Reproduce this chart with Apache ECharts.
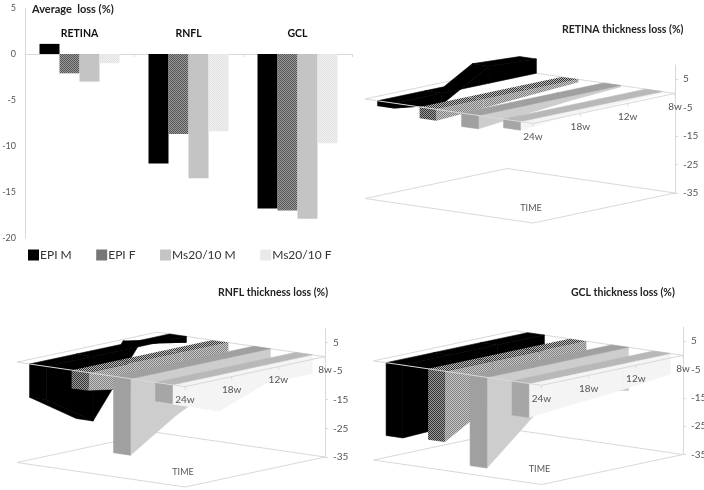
<!DOCTYPE html>
<html lang="en">
<head>
    <meta charset="UTF-8">
    <title>Thickness loss</title>
    <script type="text/javascript" src="https://cdn.jsdelivr.net/npm/echarts@6/dist/echarts.min.js"></script>
    <style>
        html, body { margin: 0; padding: 0; background: #fff; }
        #main { width: 704px; height: 490px; }
    </style>
</head>
<body>
<div id="main"></div>
<script type="text/javascript">
    // average loss, top left
    var layers = ['RETINA', 'RNFL', 'GCL'];
    var seriesNames = ['EPI M', 'EPI F', 'Ms20/10 M', 'Ms20/10 F'];
    var avgEpiM = [1.1, -11.9, -16.8];
    var avgEpiF = [-2.1, -8.7, -17];
    var avgMsM = [-3, -13.5, -17.9];
    var avgMsF = [-1, -8.4, -9.7];
    var avgTicks = [5, 0, -5, -10, -15, -20];

    // loss over time, 24w at the front of each 3d panel
    var weeks = ['24w', '18w', '12w', '8w'];
    var depthTicks = [5, -5, -15, -25, -35];

    var retinaEpiM = [-1.7, -4, 6, 5];
    var retinaEpiF = [-4, -3, -2, -1];
    var retinaMsM = [-4.7, -3, -1.5, -0.5];
    var retinaMsF = [-3, -1.5, -1, -0.5];

    var rnflEpiM = [-11.6, -22.5, 1, -2];
    var rnflEpiF = [-6.2, -9, -5, -3];
    var rnflMsM = [-26.7, -16, -8, -3];
    var rnflMsF = [-6.6, -12.6, -6.5, -6.5];

    var gclEpiM = [-25.7, -25, -15, -5];
    var gclEpiF = [-25, -15, -8, -3.5];
    var gclMsM = [-32, -17, -12, -15];
    var gclMsF = [-12, -10.5, -9.2, -7.2];

    var FONT = 'Lato, "Open Sans", sans-serif';
    var LINE = '#d9d9d9';
    var TIME_RISE = 30;      // y shift from 24w to 8w
    var DEPTH_X = -168;      // depth vector of the 3d floor
    var DEPTH_Y = -24.5;
    var RIBBON = 0.05;       // half width of a ribbon, in depth units

    function checker(a, b) {
        var c = document.createElement('canvas');
        c.width = 2;
        c.height = 2;
        var g = c.getContext('2d');
        g.fillStyle = a;
        g.fillRect(0, 0, 2, 2);
        g.fillStyle = b;
        g.fillRect(0, 0, 1, 1);
        g.fillRect(1, 1, 1, 1);
        return { image: c, repeat: 'repeat' };
    }

    var epiFBar = checker('#9a9a9a', '#555555');
    var msFBar = checker('#f0f0f0', '#e2e2e2');
    var ribbonStyles = [
        { top: '#000', cap: '#000', side: '#000', under: '#000' },
        { top: checker('#bbb', '#333'), cap: checker('#999', '#333'), side: checker('#c8c8c8', '#808080'), under: '#777' },
        { top: '#a0a0a0', cap: '#a0a0a0', side: '#cdcdcd', under: '#777' },
        { top: '#b8b8b8', cap: '#a6a6a6', side: '#f4f4f4', under: '#f8f8f8' }
    ];

    function project(api, i, v, s) {
        var c = api.coord([i, v]);
        return [c[0] + s * DEPTH_X, c[1] + (weeks.length - 1 - i) / (weeks.length - 1) * TIME_RISE + s * DEPTH_Y];
    }

    function lerp(a, b, f) {
        return [a[0] + (b[0] - a[0]) * f, a[1] + (b[1] - a[1]) * f];
    }

    function poly(points, fill) {
        // same colour outline hides the seams between faces
        var solid = typeof fill === 'string';
        return {
            type: 'polygon',
            shape: { points: points },
            style: { fill: fill, stroke: solid ? fill : null, lineWidth: solid ? 0.6 : 0 }
        };
    }

    // one prism between 0 and the value, drawn a segment at a time
    function ribbonRender(values, slot, look) {
        var mid = (slot + 0.5) / 4;
        var s0 = mid - RIBBON, s1 = mid + RIBBON;
        return function (params, api) {
            var i = params.dataIndex;
            var kids = [];
            if (i < values.length - 1) {
                var a = values[i], b = values[i + 1];
                // underside shows where the loss gets deeper going back
                if (b < a && b < 0) {
                    kids.push(poly([project(api, i, a, s0), project(api, i + 1, b, s0),
                        project(api, i + 1, b, s1), project(api, i, a, s1)], look.under));
                }
                var top0 = [project(api, i, Math.max(a, 0), s0)];
                var top1 = [project(api, i, Math.max(a, 0), s1)];
                if (a * b < 0) {
                    var f = a / (a - b);
                    top0.push(lerp(project(api, i, 0, s0), project(api, i + 1, 0, s0), f));
                    top1.push(lerp(project(api, i, 0, s1), project(api, i + 1, 0, s1), f));
                }
                top0.push(project(api, i + 1, Math.max(b, 0), s0));
                top1.push(project(api, i + 1, Math.max(b, 0), s1));
                kids.push(poly([project(api, i, 0, s0), project(api, i + 1, 0, s0),
                    project(api, i + 1, b, s0), project(api, i, a, s0)], look.side));
                kids.push(poly(top0.concat(top1.reverse()), look.top));
            }
            if (i === 0) {
                kids.push(poly([project(api, 0, 0, s0), project(api, 0, 0, s1),
                    project(api, 0, values[0], s1), project(api, 0, values[0], s0)], look.cap));
            }
            return { type: 'group', children: kids };
        };
    }

    function planeEdge(api, v, s1, i1, s2, i2) {
        return {
            type: 'line',
            shape: {
                x1: project(api, i1, v, s1)[0], y1: project(api, i1, v, s1)[1],
                x2: project(api, i2, v, s2)[0], y2: project(api, i2, v, s2)[1]
            },
            style: { stroke: LINE, lineWidth: 1 }
        };
    }

    // floor and the two back edges of the zero plane
    function frameBack(params, api) {
        if (params.dataIndex !== 0) return { type: 'group', children: [] };
        var lastIdx = weeks.length - 1;
        var floor = depthTicks[depthTicks.length - 1];
        return {
            type: 'group',
            children: [
                planeEdge(api, floor, 0, 0, 0, lastIdx),
                planeEdge(api, floor, 0, lastIdx, 1, lastIdx),
                planeEdge(api, floor, 1, lastIdx, 1, 0),
                planeEdge(api, floor, 1, 0, 0, 0),
                planeEdge(api, 0, 0, lastIdx, 1, lastIdx),
                planeEdge(api, 0, 1, lastIdx, 1, 0)
            ]
        };
    }

    // front edges of the zero plane, week labels, TIME
    function frameFront(params, api) {
        var i = params.dataIndex;
        var lastIdx = weeks.length - 1;
        var floor = depthTicks[depthTicks.length - 1];
        var p = project(api, i, 0, 0);
        var kids = [
            { type: 'line', shape: { x1: p[0], y1: p[1], x2: p[0], y2: p[1] + 3 }, style: { stroke: LINE, lineWidth: 1 } },
            {
                type: 'text', x: p[0], y: p[1] + 13,
                style: { text: weeks[i], fill: '#555', font: '10px ' + FONT, align: 'center', verticalAlign: 'middle' }
            }
        ];
        if (i === 0) {
            kids.push(planeEdge(api, 0, 0, 0, 0, lastIdx));
            kids.push(planeEdge(api, 0, 0, 0, 1, 0));
            var q = project(api, 0, floor, 0);
            kids.push({
                type: 'text', x: q[0] - 2, y: q[1] - 15,
                style: { text: 'TIME', fill: '#555', font: '9px ' + FONT, align: 'center', verticalAlign: 'middle' }
            });
        }
        return { type: 'group', children: kids };
    }

    function rows(values) {
        return values.map(function (v, i) { return [i, v]; });
    }

    var grids = [
        { left: 25, top: 8, width: 327, height: 230, outerBoundsMode: 'none' },
        { left: 533, top: 65, width: 142, height: 128, outerBoundsMode: 'none' },
        { left: 185, top: 328, width: 140, height: 129, outerBoundsMode: 'none' },
        { left: 541.5, top: 327, width: 141.5, height: 127.5, outerBoundsMode: 'none' }
    ];
    var xAxes = [{
        gridIndex: 0,
        type: 'category',
        data: layers,
        axisLine: { onZero: true, lineStyle: { color: LINE } },
        axisTick: { show: true, length: 3, lineStyle: { color: LINE } },
        // labels stay on the grid edge, not on the zero line, so margin lifts them up there
        axisLabel: { inside: true, color: '#111', fontFamily: FONT, fontWeight: 'bold', fontSize: 10.5, margin: 199 }
    }];
    var yAxes = [{
        gridIndex: 0,
        type: 'value',
        min: -20,
        max: 5,
        interval: 5,
        axisLine: { show: true, lineStyle: { color: LINE } },
        axisTick: { show: false },
        splitLine: { show: false },
        axisLabel: { color: '#555', fontFamily: FONT, fontSize: 9, margin: 9, customValues: avgTicks }
    }];
    var series = [
        { name: seriesNames[0], data: avgEpiM, color: '#000' },
        { name: seriesNames[1], data: avgEpiF, color: epiFBar },
        { name: seriesNames[2], data: avgMsM, color: '#c4c4c4' },
        { name: seriesNames[3], data: avgMsF, color: msFBar }
    ].map(function (d) {
        return {
            type: 'bar', name: d.name, data: d.data, xAxisIndex: 0, yAxisIndex: 0,
            barWidth: 20, barGap: 0, itemStyle: { color: d.color }, animation: false
        };
    });

    var panels = [
        [retinaEpiM, retinaEpiF, retinaMsM, retinaMsF],
        [rnflEpiM, rnflEpiF, rnflMsM, rnflMsF],
        [gclEpiM, gclEpiF, gclMsM, gclMsF]
    ];
    panels.forEach(function (panel, n) {
        var axis = n + 1;
        xAxes.push({ gridIndex: axis, type: 'category', data: weeks, boundaryGap: false, show: false });
        yAxes.push({
            gridIndex: axis,
            type: 'value',
            position: 'right',
            min: -35,
            max: 10,
            axisLine: { show: true, lineStyle: { color: LINE } },
            axisTick: { show: true, length: 3, lineStyle: { color: LINE }, customValues: depthTicks },
            splitLine: { show: false },
            axisLabel: { color: '#555', fontFamily: FONT, fontSize: 10, margin: 8, customValues: depthTicks }
        });
        function custom(render, data, z) {
            return {
                type: 'custom', xAxisIndex: axis, yAxisIndex: axis, data: data, renderItem: render,
                z: z, silent: true, clip: false, animation: false,
                encode: { x: 0, y: 1 }
            };
        }
        series.push(custom(frameBack, rows(panel[0]), 1));
        // back to front: EPI M sits deepest
        panel.forEach(function (values, k) {
            series.push(custom(ribbonRender(values, 3 - k, ribbonStyles[k]), rows(values), 2));
        });
        series.push(custom(frameFront, rows(panel[0]), 3));
    });

    var titleStyle = { color: '#222', fontFamily: FONT, fontWeight: 'bold', fontSize: 10.5 };
    var option = {
        backgroundColor: '#fff',
        animation: false,
        title: [
            { text: 'Average  loss (%)', left: 32, top: 4, padding: 0, textStyle: { color: '#222', fontFamily: FONT, fontWeight: 'bold', fontSize: 11 } },
            { text: 'RETINA thickness loss (%)', left: 562, top: 24, padding: 0, textStyle: titleStyle },
            { text: 'RNFL thickness loss (%)', left: 218, top: 287, padding: 0, textStyle: titleStyle },
            { text: 'GCL thickness loss (%)', left: 571, top: 287, padding: 0, textStyle: titleStyle }
        ],
        legend: {
            data: seriesNames,
            left: 28,
            top: 249,
            padding: 0,
            itemWidth: 11,
            itemHeight: 11,
            itemGap: 24.5,
            icon: 'rect',
            textStyle: { color: '#333', fontFamily: FONT, fontSize: 12, padding: [0, 0, 0, -4] }
        },
        grid: grids,
        xAxis: xAxes,
        yAxis: yAxes,
        series: series
    };
    var chart = echarts.init(document.getElementById('main'));
    chart.setOption(option);
</script>
</body>
</html>
